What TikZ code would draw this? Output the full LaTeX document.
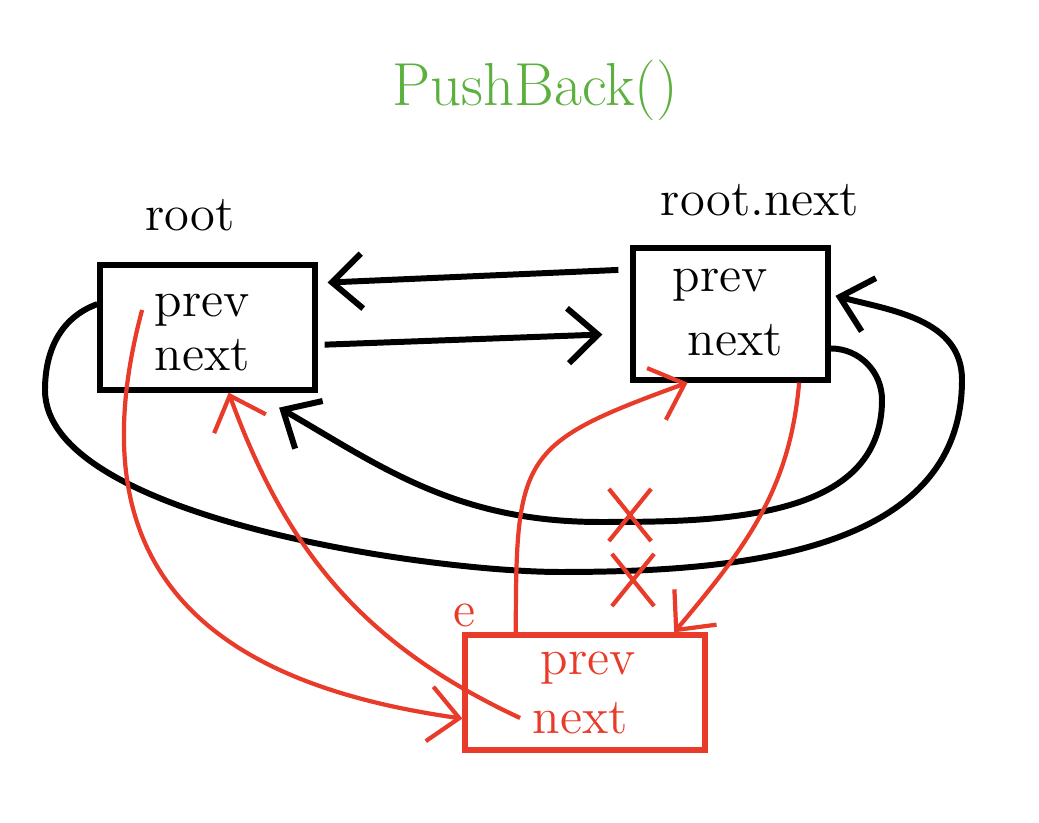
\documentclass[tikz,border=0pt]{standalone}
\usetikzlibrary{arrows.meta,shapes.misc}
\definecolor{penred}{RGB}{233,59,42}
\definecolor{pengreen}{RGB}{92,176,62}

\begin{document}
\begin{tikzpicture}[auto,
        >={Straight Barb[length=3mm,width=5.5mm]},
        box/.style={draw, line width=1.5pt, inner sep=0pt},
        field/.style={font=\Large},
        ptr/.style={->, line width=1.7pt},
        rptr/.style={->, draw=penred, line width=1.2pt},
        xmark/.style={cross out, draw=penred, line width=1.2pt, inner sep=0pt, minimum width=0.38cm, minimum height=0.48cm}]
        \useasboundingbox (0, 0) rectangle (10.39, 8.23);
        \node[text=pengreen, font=\LARGE] (T) at (5.35, 7.33) {PushBack()};
        \node[field] (Rl) at (1.9, 6.08) {root};
        \node[field] (Nl) at (7.6, 6.23) {root.next};
        \node[field, text=penred] (El) at (4.65, 2.08) {e};
        \node[box, minimum width=2.15cm, minimum height=1.25cm] (R) at (2.075, 4.955) {};
        \node[field] (Rp) at (2.02, 5.13) {prev};
        \node[field] (Rn) at (2.02, 4.68) {next};
        \node[box, minimum width=1.95cm, minimum height=1.32cm] (N) at (7.305, 5.09) {};
        \node[field] (Np) at (7.2, 5.38) {prev};
        \node[field] (Nn) at (7.35, 4.83) {next};
        \node[box, draw=penred, minimum width=2.4cm, minimum height=1.15cm] (E) at (5.85, 1.305) {};
        \node[field, text=penred] (Ep) at (5.88, 1.55) {prev};
        \node[field, text=penred] (En) at (5.8, 1.05) {next};
        \coordinate (inR) at (8.82, 4.23);
        \coordinate (inB) at (6.0, 3.01);
        \coordinate (outL) at (0.45, 4.33);
        \coordinate (outB) at (5.6, 2.51);
        \coordinate (outR) at (9.62, 4.43);
        \draw[ptr, shorten <=0.12cm, shorten >=0.1cm] (N.156) to (R.22);
        \draw[ptr, shorten <=0.07cm, shorten >=0.28cm] (R.-9) to (N.191);
        \draw[ptr, shorten >=0.3cm] (N.-19) to[out=0, in=90] (inR) to[out=-90, in=0] (inB) to[out=180, in=-30] (R.-55);
        \draw[ptr, shorten >=0.05cm] (R.168) to[out=200, in=90] (outL) to[out=-90, in=180, looseness=0.6] (outB) to[out=0, in=-90] (outR) to[out=90, in=-15] (N.11);
        \node[xmark] (X1) at (6.3, 3.08) {};
        \node[xmark] (X2) at (6.33, 2.43) {};
        \draw[rptr] (En.west) to[out=155, in=-70] (R.-72);
        \draw[rptr] (Rp.west) to[out=-105, in=172, looseness=1.3] (E.192);
        \draw[rptr] (E.139) to[out=90, in=200, looseness=1.5] (N.238);
        \draw[rptr] (N.-45) to[out=-95, in=50] (E.34);

      \end{tikzpicture}
\end{document}
